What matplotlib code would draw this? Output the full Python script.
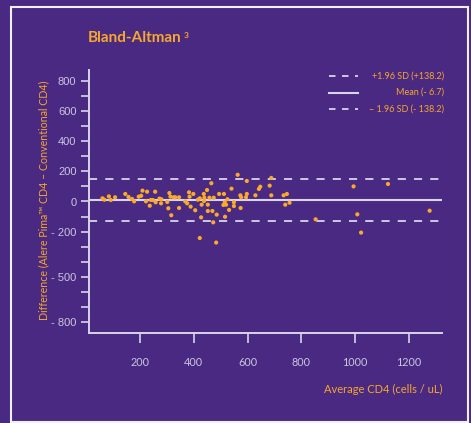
import matplotlib
matplotlib.use("Agg")
import matplotlib.pyplot as plt
from matplotlib.lines import Line2D
from matplotlib.patches import Rectangle

# average CD4 (cells/uL) and difference (Pima - conventional)
avg_cd4 = [60, 67, 84, 91, 107, 145, 157, 170, 178, 195, 204, 209, 222, 226, 236,
           240, 247, 256, 258, 272, 278, 279, 301, 305, 309, 313, 316, 325, 331,
           345, 345, 368, 375, 382, 384, 388, 398, 405, 415, 422, 422, 427, 429,
           437, 438, 439, 449, 452, 452, 458, 465, 469, 472, 474, 483, 485, 494,
           510, 512, 515, 516, 520, 525, 531, 540, 549, 549, 563, 573, 574, 576,
           594, 597, 597, 629, 642, 647, 682, 688, 688, 734, 740, 746, 756, 853,
           994, 1008, 1022, 1122, 1277]
diff_cd4 = [21, 12, 34, 10, 28, 50, 30, 17, 1, 32, 38, 72, 1, 65, -28,
            10, 10, 65, -5, 19, -12, 15, -3, -45, 56, 32, -91, 28, 28,
            28, -43, 1, -12, 61, 32, -34, 50, -58, 12, 21, -242, -105, -21,
            50, 3, 25, 76, -21, -63, 25, 121, -63, -138, 25, -272, -87, 50,
            -23, 50, -5, -101, -21, 15, -56, 85, -5, -30, 177, 41, -43, 28,
            28, 136, 50, 41, 83, 98, 105, 156, 41, 41, -21, 50, -8, -118,
            100, -85, -206, 116, -61]

# reference lines as drawn in the picture
mean_line = 12
upper_loa = 152
lower_loa = -130
legend_labels = ["+1.96 SD (+138.2)", "Mean (- 6.7)", "\u2013 1.96 SD (- 138.2)"]

y_ticks = list(range(-800, 801, 100))
y_ticklabels = {800: "800", 600: "600", 400: "400", 200: "200", 0: "0",
                -200: "- 200", -500: "- 500", -800: "- 800"}
x_ticks = [200, 400, 600, 800, 1000, 1200]

BG = "#4a2982"
ORANGE = "#f6a72c"
DOT = "#f9aa2a"
AXC = "#d9d4e8"
TICKC = "#cbc5de"

W, H = 471, 423
def fx(px): return px / W
def fy(py): return 1 - py / H

fig = plt.figure(figsize=(W / 100, H / 100), dpi=100, facecolor=BG)
fig.add_artist(Rectangle((fx(11), fy(422)), fx(467.5) - fx(11), fy(6.7) - fy(422),
                         transform=fig.transFigure, fill=False,
                         edgecolor="#f2f0f7", linewidth=1.5))

ax = fig.add_axes([fx(89), fy(333), fx(442) - fx(89), fy(70) - fy(333)])
ax.set_facecolor(BG)
ax.set_xlim(10, 1323)
ax.set_ylim(-871, 871)

ax.axhline(upper_loa, color=AXC, lw=1.3, dashes=(4.5, 4.5), zorder=1)
ax.axhline(lower_loa, color=AXC, lw=1.3, dashes=(4.5, 4.5), zorder=1)
ax.axhline(mean_line, color=AXC, lw=1.5, zorder=1)
ax.scatter(avg_cd4, diff_cd4, s=9, color=DOT, edgecolors="none", zorder=3)

for s in ["top", "right"]:
    ax.spines[s].set_visible(False)
for s in ["left", "bottom"]:
    ax.spines[s].set_color(AXC)
    ax.spines[s].set_linewidth(1.4)

ax.set_yticks(y_ticks)
ax.set_yticklabels([y_ticklabels.get(t, "") for t in y_ticks],
                   fontfamily="Liberation Sans")
ax.tick_params(axis="y", length=6, width=1.2, color=AXC, pad=3,
               labelsize=8, labelcolor=TICKC)
ax.set_xticks(x_ticks)
ax.set_xticklabels([str(t) for t in x_ticks], fontfamily="Lato")
ax.tick_params(axis="x", length=7, width=1.2, color=AXC, pad=10,
               labelsize=7.8, labelcolor=TICKC)

fig.text(fx(442), fy(389), "Average CD4 (cells / uL)", ha="right", va="center",
         fontsize=8, color=ORANGE, fontfamily="Lato")
fig.text(fx(44), fy(200), "Difference (Alere Pima\u2122 CD4 \u2013 Conventional CD4)",
         rotation=90, ha="center", va="center", fontsize=7.7, color=ORANGE,
         fontfamily="Lato")

title = fig.text(fx(88), fy(38), "Bland-Altman", ha="left", va="center",
                 fontsize=11, fontweight="bold", color=ORANGE, fontfamily="Lato")
r = fig.canvas.get_renderer()
bb = title.get_window_extent(renderer=r)
fig.text(bb.x1 / W + fx(1.5), fy(35), "3", ha="left", va="center",
         fontsize=6, fontweight="bold", color=ORANGE, fontfamily="Lato")

# legend drawn by hand: samples on the left, right-aligned text
for py, lab, ls in zip([76, 92.5, 109], legend_labels, ["--", "-", "--"]):
    kw = dict(dashes=(3.6, 3.6)) if ls == "--" else {}
    fig.add_artist(Line2D([fx(329), fx(358)], [fy(py), fy(py)],
                          transform=fig.transFigure, color=AXC,
                          lw=1.3 if ls == "--" else 1.5, **kw))
    fig.text(fx(444), fy(py), lab, ha="right", va="center", fontsize=6.5,
             color=ORANGE, fontfamily="Lato")

fig.savefig("out.png", dpi=100, facecolor=BG)
